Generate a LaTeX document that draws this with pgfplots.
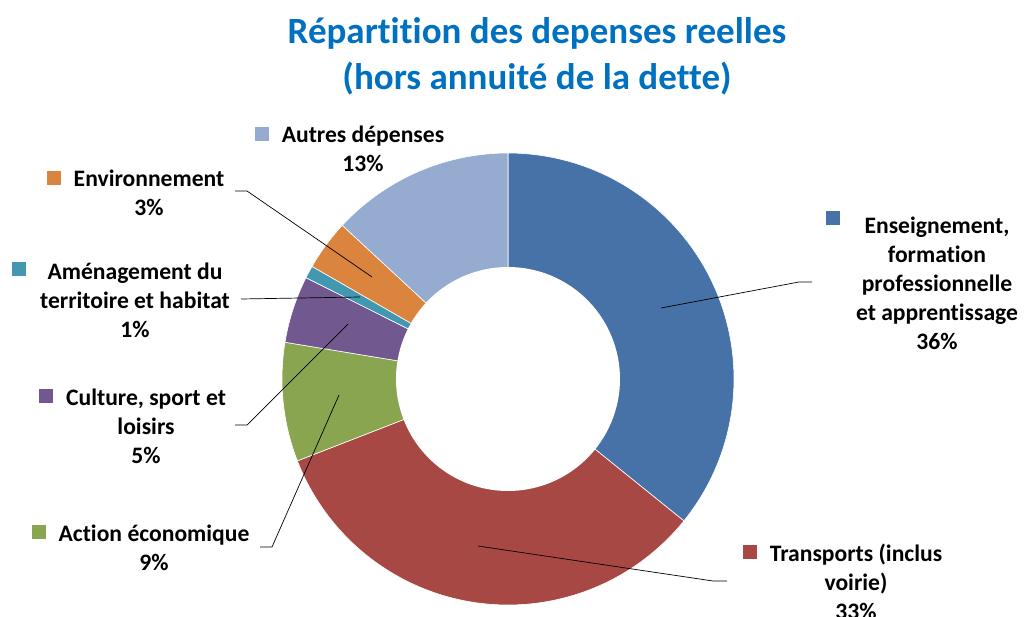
\documentclass[border=0pt]{standalone}
\usepackage{pgfplots}
\pgfplotsset{compat=1.18}
\usepackage{fontspec}
\setmainfont{Carlito}[Ligatures=NoCommon]
\definecolor{cEns}{HTML}{4672A7}
\definecolor{cTra}{HTML}{A84845}
\definecolor{cAct}{HTML}{8AA550}
\definecolor{cCul}{HTML}{71598F}
\definecolor{cAme}{HTML}{4298B0}
\definecolor{cEnv}{HTML}{DA843E}
\definecolor{cAut}{HTML}{95ACD0}
\definecolor{cTitle}{HTML}{0070C0}
\tikzset{
  lbl/.style={font={\fontsize{23.6}{29}\selectfont\bfseries}, align=center, inner sep=0pt, anchor=center},
  sq/.style={minimum size=14pt, inner sep=0pt}}
% shares in percent
\def\vEns{35.8}
\def\vTra{33.3}
\def\vAct{8.5}
\def\vCul{4.8}
\def\vAme{0.9}
\def\vEnv{3.6}
\def\vAut{13.1}
\begin{document}
\begin{tikzpicture}
\pgfmathsetmacro\aA{90}
\pgfmathsetmacro\aB{\aA-3.6*\vEns}
\pgfmathsetmacro\aC{\aB-3.6*\vTra}
\pgfmathsetmacro\aD{\aC-3.6*\vAct}
\pgfmathsetmacro\aE{\aD-3.6*\vCul}
\pgfmathsetmacro\aF{\aE-3.6*\vAme}
\pgfmathsetmacro\aG{\aF-3.6*\vEnv}
\pgfmathsetmacro\aH{\aG-3.6*\vAut}
\begin{axis}[name=ax, width=1027pt, height=617pt, scale only axis,
  xmin=0, xmax=1027, ymin=0, ymax=617, y dir=reverse,
  axis lines=none, clip=false]
\addplot[fill=cEns, draw=white, line width=0.6pt, domain=\aB:\aA, samples=80, variable=\t] ({508+226*cos(\t)},{379-226*sin(\t)}) -- (axis cs:508,379) -- cycle;
\addplot[fill=cTra, draw=white, line width=0.6pt, domain=\aC:\aB, samples=80, variable=\t] ({508+226*cos(\t)},{379-226*sin(\t)}) -- (axis cs:508,379) -- cycle;
\addplot[fill=cAct, draw=white, line width=0.6pt, domain=\aD:\aC, samples=40, variable=\t] ({508+226*cos(\t)},{379-226*sin(\t)}) -- (axis cs:508,379) -- cycle;
\addplot[fill=cCul, draw=white, line width=0.6pt, domain=\aE:\aD, samples=30, variable=\t] ({508+226*cos(\t)},{379-226*sin(\t)}) -- (axis cs:508,379) -- cycle;
\addplot[fill=cAme, draw=white, line width=0.6pt, domain=\aF:\aE, samples=10, variable=\t] ({508+226*cos(\t)},{379-226*sin(\t)}) -- (axis cs:508,379) -- cycle;
\addplot[fill=cEnv, draw=white, line width=0.6pt, domain=\aG:\aF, samples=20, variable=\t] ({508+226*cos(\t)},{379-226*sin(\t)}) -- (axis cs:508,379) -- cycle;
\addplot[fill=cAut, draw=white, line width=0.6pt, domain=\aH:\aG, samples=50, variable=\t] ({508+226*cos(\t)},{379-226*sin(\t)}) -- (axis cs:508,379) -- cycle;
% hole
\addplot[fill=white, draw=none, domain=0:360, samples=150, variable=\t] ({508+112*cos(\t)},{379-112*sin(\t)}) -- cycle;
% leader lines
\addplot[black, line width=0.7pt, mark=none] coordinates {(235,191) (247,191) (372,277)};
\addplot[black, line width=0.7pt, mark=none] coordinates {(241,299) (360,297)};
\addplot[black, line width=0.7pt, mark=none] coordinates {(235,425) (247,425) (348,324)};
\addplot[black, line width=0.7pt, mark=none] coordinates {(260,547) (272,547) (339,395)};
\addplot[black, line width=0.7pt, mark=none] coordinates {(812,282) (799,282) (661,308)};
\addplot[black, line width=0.7pt, mark=none] coordinates {(727,581) (713,581) (478,546)};
% title
\node[font={\fontsize{37}{46}\selectfont\bfseries}, text=cTitle, align=center, anchor=center, inner sep=0pt] at (axis cs:537,56) {Répartition des depenses reelles\\(hors annuité de la dette)};
% labels
\node[sq, fill=cAut] at (axis cs:262,134) {};
\node[lbl] at (axis cs:363,148.5) {Autres dépenses\\13\%};
\node[sq, fill=cEnv] at (axis cs:54,178) {};
\node[lbl] at (axis cs:149,193) {Environnement\\3\%};
\node[sq, fill=cAme] at (axis cs:19,269) {};
\node[lbl] at (axis cs:135,300) {Aménagement du\\territoire et habitat\\1\%};
\node[sq, fill=cCul] at (axis cs:46,396) {};
\node[lbl] at (axis cs:146,426) {Culture, sport et\\loisirs\\5\%};
\node[sq, fill=cAct] at (axis cs:39,532) {};
\node[lbl] at (axis cs:154,547.5) {Action économique\\9\%};
\node[sq, fill=cEns] at (axis cs:833,218) {};
\node[lbl] at (axis cs:937,283) {Enseignement,\\formation\\professionnelle\\et apprentissage\\36\%};
\node[sq, fill=cTra] at (axis cs:750,552) {};
\node[lbl] at (axis cs:856,582) {Transports (inclus\\voirie)\\33\%};
\end{axis}
\pgfresetboundingbox
\path[use as bounding box] (ax.south west) rectangle (ax.north east);
\end{tikzpicture}
\end{document}
